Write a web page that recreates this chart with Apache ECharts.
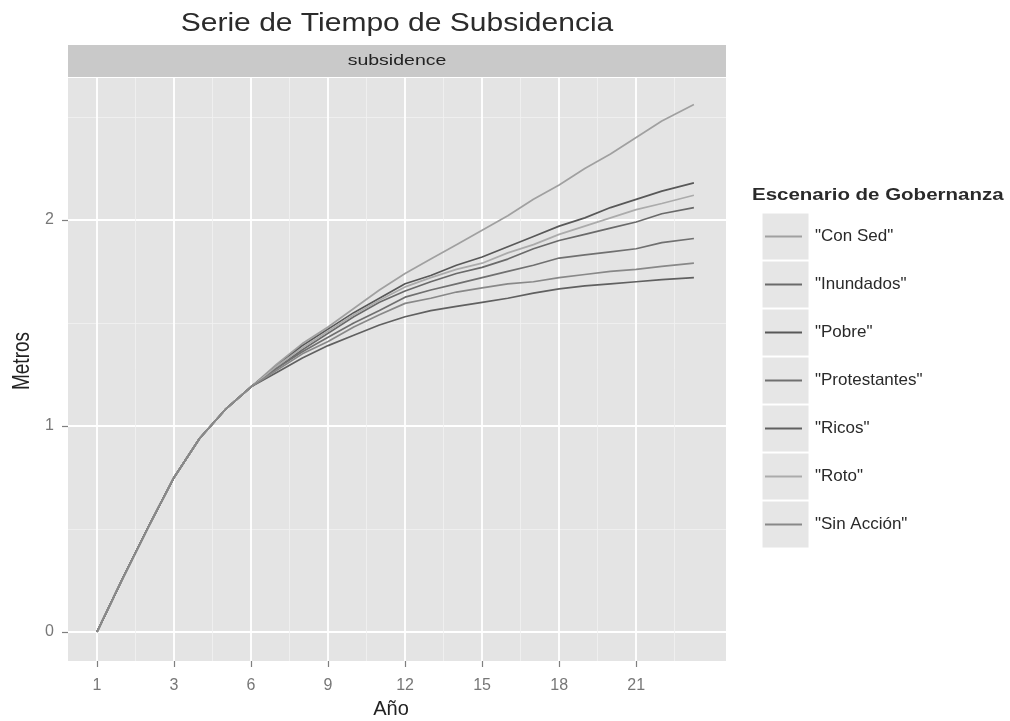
<!DOCTYPE html>
<html>
<head>
<meta charset="utf-8">
<script src="https://cdn.jsdelivr.net/npm/echarts@6/dist/echarts.min.js"></script>
<style>
  html, body { margin: 0; padding: 0; background: #fff; }
  #chart { width: 1010px; height: 721px; }
</style>
</head>
<body>
<div id="chart"></div>
<script>
// posicion en el eje (0 = etiqueta "1")
var anios = [0, 1, 2, 3, 4, 5, 6, 7, 8, 9, 10, 11, 12, 13, 14, 15, 16, 17, 18, 19, 20, 21, 22, 23.25];

var conSed       = [0, 0.26, 0.51, 0.75, 0.94, 1.08, 1.19, 1.30, 1.40, 1.48, 1.57, 1.66, 1.74, 1.81, 1.88, 1.95, 2.02, 2.10, 2.17, 2.25, 2.32, 2.40, 2.48, 2.56];
var pobre        = [0, 0.26, 0.51, 0.75, 0.94, 1.08, 1.19, 1.29, 1.39, 1.47, 1.55, 1.62, 1.69, 1.73, 1.78, 1.82, 1.87, 1.92, 1.97, 2.01, 2.06, 2.10, 2.14, 2.18];
var roto         = [0, 0.26, 0.51, 0.75, 0.94, 1.08, 1.19, 1.29, 1.38, 1.46, 1.54, 1.61, 1.675, 1.72, 1.76, 1.79, 1.84, 1.88, 1.93, 1.97, 2.01, 2.05, 2.08, 2.12];
var inundados    = [0, 0.26, 0.51, 0.75, 0.94, 1.08, 1.19, 1.28, 1.37, 1.45, 1.53, 1.60, 1.655, 1.70, 1.74, 1.77, 1.81, 1.86, 1.90, 1.93, 1.96, 1.99, 2.03, 2.06];
var protestantes = [0, 0.26, 0.51, 0.75, 0.94, 1.08, 1.19, 1.28, 1.36, 1.43, 1.50, 1.56, 1.625, 1.66, 1.69, 1.72, 1.75, 1.78, 1.815, 1.83, 1.845, 1.86, 1.89, 1.91];
var sinAccion    = [0, 0.26, 0.51, 0.75, 0.94, 1.08, 1.19, 1.27, 1.35, 1.41, 1.48, 1.54, 1.595, 1.62, 1.65, 1.67, 1.69, 1.70, 1.72, 1.735, 1.75, 1.76, 1.775, 1.79];
var ricos        = [0, 0.26, 0.51, 0.75, 0.94, 1.08, 1.19, 1.26, 1.33, 1.39, 1.44, 1.49, 1.53, 1.56, 1.58, 1.60, 1.62, 1.645, 1.665, 1.68, 1.69, 1.70, 1.71, 1.72];

var xTicks = [0, 3, 6, 9, 12, 15, 18, 21];
var xTickLabels = ['1', '3', '6', '9', '12', '15', '18', '21'];
var xMinor = [1.5, 4.5, 7.5, 10.5, 13.5, 16.5, 19.5, 22.5];
var yTicks = [0, 1, 2];
var yMinor = [0.5, 1.5, 2.5];

var nombres = ['"Con Sed"', '"Inundados"', '"Pobre"', '"Protestantes"', '"Ricos"', '"Roto"', '"Sin Acción"'];
var valores = [conSed, inundados, pobre, protestantes, ricos, roto, sinAccion];
var colores = ['#a0a0a0', '#6a6a6a', '#585858', '#707070', '#606060', '#ababab', '#888888'];

var FONT = '"Liberation Sans", Arial, sans-serif';
var chart = echarts.init(document.getElementById('chart'));

var series = nombres.map(function (n, i) {
  return {
    name: n,
    type: 'line',
    xAxisIndex: 1,
    yAxisIndex: 1,
    symbol: 'none',
    animation: false,
    lineStyle: { width: 1.7, color: colores[i] },
    itemStyle: { color: colores[i] },
    data: anios.map(function (a, k) { return [a, valores[i][k]]; })
  };
});

// cajas de la leyenda
var cajas = nombres.map(function (n, i) {
  return {
    type: 'rect',
    shape: { x: 762, y: 213 + i * 48, width: 47, height: 47 },
    style: { fill: '#e6e6e6', stroke: '#ffffff', lineWidth: 1 }
  };
});

var minorSplit = { show: true, lineStyle: { color: '#f1f1f1', width: 0.8 } };
var majorSplit = { show: true, lineStyle: { color: '#ffffff', width: 1.8 } };

chart.setOption({
  backgroundColor: '#ffffff',
  textStyle: { fontFamily: FONT },
  grid: {
    left: 68, top: 78, width: 658, height: 583,
    show: true, backgroundColor: '#e4e4e4', borderWidth: 0
  },
  legend: {
    orient: 'vertical',
    left: 765, top: 228, padding: 0,
    icon: 'rect',
    itemWidth: 37, itemHeight: 2, itemGap: 31,
    selectedMode: false,
    textStyle: { fontSize: 17, color: '#2a2a2a', fontFamily: FONT, padding: [0, 0, 0, 8] },
    data: nombres
  },
  xAxis: [
    {
      type: 'value', position: 'bottom', min: -1.13, max: 24.5,
      axisLine: { show: false, onZero: false },
      axisTick: { show: false, customValues: xMinor },
      axisLabel: { show: false, customValues: xMinor },
      splitLine: minorSplit
    },
    {
      type: 'value', position: 'bottom', offset: 0, min: -1.13, max: 24.5,
      axisLine: { show: false, onZero: false },
      axisTick: { show: true, length: 6, customValues: xTicks, lineStyle: { color: '#7f7f7f', width: 1.2 } },
      axisLabel: {
        customValues: xTicks, margin: 17, fontSize: 16, color: '#777777', fontFamily: FONT,
        formatter: function (v) { return xTickLabels[xTicks.indexOf(v)]; }
      },
      splitLine: majorSplit
    }
  ],
  yAxis: [
    {
      type: 'value', position: 'left', min: -0.141, max: 2.689,
      axisLine: { show: false, onZero: false },
      axisTick: { show: false, customValues: yMinor },
      axisLabel: { show: false, customValues: yMinor },
      splitLine: minorSplit
    },
    {
      type: 'value', position: 'left', offset: 0, min: -0.141, max: 2.689,
      axisLine: { show: false, onZero: false },
      axisTick: { show: true, length: 6, customValues: yTicks, lineStyle: { color: '#7f7f7f', width: 1.2 } },
      axisLabel: { customValues: yTicks, margin: 14, fontSize: 16, color: '#777777', fontFamily: FONT },
      splitLine: majorSplit
    }
  ],
  graphic: [
    {
      type: 'text', x: 397, y: 24, scaleX: 1.2,
      style: { text: 'Serie de Tiempo de Subsidencia', font: '25px ' + FONT, fill: '#2b2b2b', align: 'center', verticalAlign: 'middle' }
    },
    {
      type: 'rect', shape: { x: 68, y: 45, width: 658, height: 32 },
      style: { fill: '#c9c9c9' }
    },
    {
      type: 'text', x: 397, y: 61, scaleX: 1.3,
      style: { text: 'subsidence', font: '15px ' + FONT, fill: '#222222', align: 'center', verticalAlign: 'middle' }
    },
    {
      type: 'text', x: 22, y: 361, rotation: Math.PI / 2, scaleY: 1.25,
      style: { text: 'Metros', font: '19px ' + FONT, fill: '#222222', align: 'center', verticalAlign: 'middle' }
    },
    {
      type: 'text', x: 391, y: 709,
      style: { text: 'Año', font: '20px ' + FONT, fill: '#222222', align: 'center', verticalAlign: 'middle' }
    },
    {
      type: 'text', x: 752, y: 196, scaleX: 1.28,
      style: { text: 'Escenario de Gobernanza', font: 'bold 16px ' + FONT, fill: '#2a2a2a', align: 'left', verticalAlign: 'middle' }
    }
  ].concat(cajas),
  series: series
});
</script>
</body>
</html>
